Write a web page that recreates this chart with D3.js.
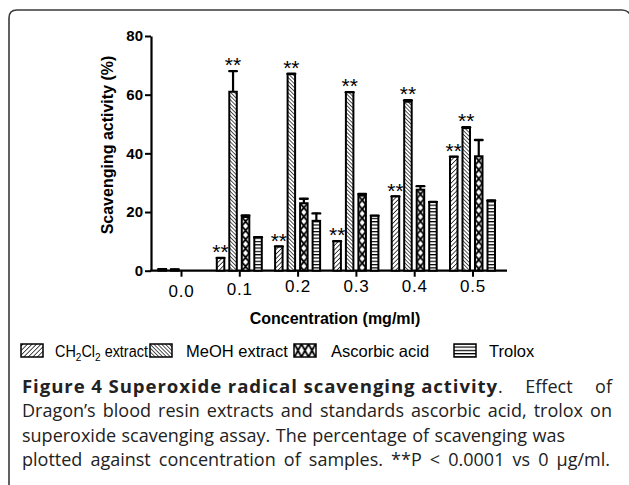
<!DOCTYPE html>
<html><head><meta charset="utf-8">
<script src="https://cdn.jsdelivr.net/npm/d3@7"></script>
<style>
body{margin:0;background:#fff;}
svg{display:block;}
</style></head>
<body>
<svg id="chart" width="629" height="485"></svg>
<script>
const categories = ["0.0","0.1","0.2","0.3","0.4","0.5"];
const seriesNames = ["CH2Cl2 extract","MeOH extract","Ascorbic acid","Trolox"];
const ch2cl2 = [0.5, 4.3, 8.2, 10.0, 25.3, 38.8];
const meoh   = [0.4, 61.0, 67.0, 60.8, 57.6, 48.6];
const ascorbic = [0, 18.3, 23.0, 25.6, 27.6, 39.0];
const trolox = [0, 11.4, 17.0, 18.7, 23.4, 23.8];
const ch2cl2Err = [0.3, 0.3, 0.3, 0.3, 0.3, 0.3];
const meohErr = [0.3, 7.3, 0.4, 0.3, 0.8, 0.6];
const ascorbicErr = [0, 0.8, 1.8, 0.8, 1.5, 5.8];
const troloxErr = [0, 0.3, 2.8, 0.3, 0.3, 0.4];
const ch2cl2Sig = [false,true,true,true,true,true];
const meohSig = [false,true,true,true,true,true];
const ascorbicSig = [false,false,false,false,false,false];
const troloxSig = [false,false,false,false,false,false];
const yTicks = [0,20,40,60,80];

const seriesValues = [ch2cl2, meoh, ascorbic, trolox];
const seriesErrs = [ch2cl2Err, meohErr, ascorbicErr, troloxErr];
const seriesSig = [ch2cl2Sig, meohSig, ascorbicSig, troloxSig];
const patternIds = ["pFwd","pBack","pCross","pHoriz"];

const svg = d3.select("#chart");
const defs = svg.append("defs");

// patterns
const pf = defs.append("pattern").attr("id","pFwd").attr("patternUnits","userSpaceOnUse").attr("width",3.2).attr("height",3.2).attr("patternTransform","rotate(45)");
pf.append("rect").attr("width",3.2).attr("height",3.2).attr("fill","#fff");
pf.append("line").attr("x1",0).attr("y1",0).attr("x2",0).attr("y2",3.2).attr("stroke","#000").attr("stroke-width",1.4);
const pb = defs.append("pattern").attr("id","pBack").attr("patternUnits","userSpaceOnUse").attr("width",2.7).attr("height",2.7).attr("patternTransform","rotate(-45)");
pb.append("rect").attr("width",2.7).attr("height",2.7).attr("fill","#fff");
pb.append("line").attr("x1",0).attr("y1",0).attr("x2",0).attr("y2",2.7).attr("stroke","#000").attr("stroke-width",1.35);
const ph = defs.append("pattern").attr("id","pHoriz").attr("patternUnits","userSpaceOnUse").attr("width",4).attr("height",3.3);
ph.append("rect").attr("width",4).attr("height",3.3).attr("fill","#fff");
ph.append("line").attr("x1",0).attr("y1",0.6).attr("x2",4).attr("y2",0.6).attr("stroke","#000").attr("stroke-width",1.2);

function crossPattern(id, x0, w, h, y0){
  const p = defs.append("pattern").attr("id",id).attr("patternUnits","userSpaceOnUse")
    .attr("x",x0).attr("y",y0).attr("width",w).attr("height",h);
  p.append("rect").attr("width",w).attr("height",h).attr("fill","#fff");
  p.append("path").attr("d",`M0,0L${w},${h}M${w},0L0,${h}`).attr("stroke","#000").attr("stroke-width",1.8);
}

// frame
svg.append("path").attr("d","M9,486V18Q9,10 17,10H622Q628,10 631,16")
  .attr("fill","none").attr("stroke","#3a3a3a").attr("stroke-width",1.6);

const y = d3.scaleLinear().domain([0,80]).range([270.7,36]);
const x = d3.scalePoint().domain(categories).range([181,472.5]);
const inner = d3.scaleBand().domain(seriesNames).range([-25,25]).paddingInner(0.4).paddingOuter(0.2);
const bw = inner.bandwidth();

// y axis
const yAxis = d3.axisLeft(y).tickValues(yTicks).tickSize(6).tickSizeOuter(0).tickPadding(2);
const gy = svg.append("g").attr("transform","translate(151,0)").call(yAxis);
gy.select(".domain").attr("stroke-width",2.2);
gy.selectAll(".tick line").attr("stroke-width",2);
gy.selectAll("text").attr("font-family","Liberation Sans, Arial, sans-serif").attr("font-weight","bold").attr("font-size",15).attr("fill","#000");

// x axis
const xLabelBase = [26.3, 24.3, 21.8, 21.8, 21.8, 21.8];
const xAxis = d3.axisBottom(x).tickSize(6).tickSizeOuter(0);
const gx = svg.append("g").attr("transform","translate(0,270.7)").call(xAxis);
gx.select(".domain").remove();
gx.append("line").attr("x1",150).attr("x2",507).attr("stroke","#000").attr("stroke-width",2.2);
gx.selectAll(".tick line").attr("stroke-width",2);
gx.selectAll(".tick text").attr("font-family","Liberation Sans, Arial, sans-serif").attr("font-size",17).attr("letter-spacing","0.8px").attr("fill","#000")
  .attr("dy", 0).attr("y", (d,i)=> xLabelBase[i]);

// bars
seriesNames.forEach((s, si) => {
  const vals = seriesValues[si], errs = seriesErrs[si], sig = seriesSig[si];
  const g = svg.append("g");
  categories.forEach((c, ci) => {
    const bx = x(c) + inner(s);
    let fill = "url(#"+patternIds[si]+")";
    if (si === 2) {
      const pid = "pCross"+ci;
      crossPattern(pid, bx, bw, 9, y(vals[ci]));
      fill = "url(#"+pid+")";
    }
    const top = y(vals[ci] + errs[ci]);
    const cx = bx + bw/2;
    if (errs[ci] > 0) {
      g.append("line").attr("x1",cx).attr("x2",cx).attr("y1",y(vals[ci])).attr("y2",top).attr("stroke","#000").attr("stroke-width",2.2);
      g.append("line").attr("x1",cx-3.8).attr("x2",cx+3.8).attr("y1",top+0.8).attr("y2",top+0.8).attr("stroke","#000").attr("stroke-width",2.4).attr("stroke-linecap","round");
    }
    g.append("rect").attr("x",bx).attr("y",y(vals[ci])).attr("width",bw).attr("height",y(0)-y(vals[ci]))
      .attr("fill",fill).attr("stroke","#000").attr("stroke-width",2);
    if (sig[ci]) {
      g.append("text").attr("x",cx).attr("y",top+2).attr("text-anchor","middle")
        .attr("font-family","Liberation Sans, Arial, sans-serif").attr("font-size",21).text("**");
    }
  });
});

// axis titles
svg.append("text").attr("transform","translate(113,145) rotate(-90)").attr("text-anchor","middle")
  .attr("font-family","Liberation Sans, Arial, sans-serif").attr("font-weight","bold").attr("font-size",16).text("Scavenging activity (%)");
svg.append("text").attr("x",335).attr("y",324).attr("text-anchor","middle")
  .attr("font-family","Liberation Sans, Arial, sans-serif").attr("font-weight","bold").attr("font-size",16).text("Concentration (mg/ml)");

// legend
const legendX = [21, 150, 294, 454];
const legendTextX = [55, 186, 331, 489];
const legendLabels = ["CH2Cl2 extract","MeOH extract","Ascorbic acid","Trolox"];
seriesNames.forEach((s, si) => {
  const lg = svg.append("g");
  let fill = "url(#"+patternIds[si]+")";
  if (si === 2) { crossPattern("pCrossLeg", legendX[si]+0.5, 7, 13, 344); fill = "url(#pCrossLeg)"; }
  lg.append("rect").attr("x",legendX[si]).attr("y",344).attr("width",22).attr("height",13).attr("fill",fill).attr("stroke","#000").attr("stroke-width",1.5);
  const t = lg.append("text").attr("x", legendTextX[si]).attr("y",357)
    .attr("font-family","Liberation Sans, Arial, sans-serif").attr("font-size",16.5);
  if (si === 0) {
    t.append("tspan").text("CH");
    t.append("tspan").attr("font-size",11.5).attr("dy",4).text("2");
    t.append("tspan").attr("dy",-4).text("Cl");
    t.append("tspan").attr("font-size",11.5).attr("dy",4).text("2");
    t.append("tspan").attr("dy",-4).text(" extract");
    const w = t.node().getComputedTextLength();
    const k = 93 / w;
    const x0 = legendTextX[si];
    t.attr("transform", `translate(${x0},0) scale(${k},1) translate(${-x0},0)`);
  } else {
    t.text(legendLabels[si]);
  }
});

// caption
const capFont = "'Open Sans', 'Noto Sans', sans-serif";
const capLines = [
  {parts:[{t:"Figure 4 Superoxide radical scavenging activity",b:true,w:476},{t:". Effect of",b:false}], target:590},
  {parts:[{t:"Dragon’s blood resin extracts and standards ascorbic acid, trolox on",b:false}], target:590},
  {parts:[{t:"superoxide scavenging assay. The percentage of scavenging was",b:false}], target:543},
  {parts:[{t:"plotted against concentration of samples. **P < 0.0001 vs 0 μg/ml.",b:false}], target:588}
];
const capY = [393, 417, 442, 466];
capLines.forEach((ln, i) => {
  const t = svg.append("text").attr("x",22).attr("y",capY[i]).attr("font-family",capFont).attr("font-size",18).attr("fill","#222");
  const spans = ln.parts.map(p => t.append("tspan").attr("font-weight", p.b ? "bold" : "normal").attr("font-size", p.b ? 18.6 : 18).text(p.t));
  ln.parts.forEach((p, pi) => {
    if (p.w) {
      const sw = spans[pi].node().getComputedTextLength();
      spans[pi].attr("letter-spacing", ((p.w - sw) / p.t.length) + "px");
    }
  });
  let w = t.node().getComputedTextLength();
  if (ln.parts[0].w) {
    const rest = ln.parts.slice(1).map(p=>p.t).join("");
    const restW = spans.slice(1).reduce((a,s)=>a + s.node().getComputedTextLength(), 0);
    const spaces = rest.split(" ").length - 1;
    spans.slice(1).forEach(s => s.attr("word-spacing", ((ln.target - ln.parts[0].w - restW)/spaces) + "px"));
    return;
  }
  const spaces = ln.parts.map(p=>p.t).join("").split(" ").length - 1;
  if (w <= ln.target) {
    t.attr("word-spacing", ((ln.target - w)/spaces) + "px");
  } else {
    const k = ln.target / w;
    t.attr("transform", `translate(22,0) scale(${k},1) translate(-22,0)`);
  }
});
</script>
</body></html>
